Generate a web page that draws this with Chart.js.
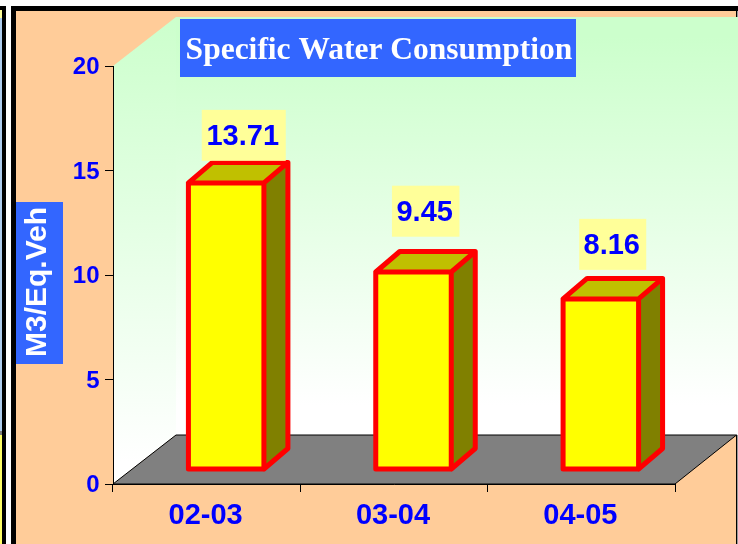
<!DOCTYPE html>
<html>
<head>
<meta charset="utf-8">
<style>html,body{margin:0;padding:0;background:#fff}canvas{display:block}</style>
<script src="https://cdn.jsdelivr.net/npm/chart.js@4/dist/chart.umd.min.js"></script>
</head>
<body>
<canvas id="c" width="738" height="544"></canvas>
<script>
const categories = ['02-03', '03-04', '04-05'];
const consumption = [13.71, 9.45, 8.16];
const chartTitle = 'Specific Water Consumption';
const yAxisTitle = 'M3/Eq.Veh';

const BLUE = '#0000FF', BOX = '#3366FF', PEACH = '#FFCC99';
const SANS = '"Liberation Sans", Arial, sans-serif';
const FRONT = {dx: 19.5, dy: -14.5};      // bar front plane vs. axis plane
const DEPTH = {dx: 24, dy: -20.5};        // bar depth
const WALL = {dx: 63, dy: -49};           // chart depth
const labelBoxes = [
  {ox: 37.1, oy: -62.1, w: 84},
  {ox: 31.7, oy: -75.3, w: 67.5},
  {ox: 31.4, oy: -69.1, w: 67}
];

const scene = {
  id: 'scene',
  afterLayout(chart) {
    const t = chart.titleBlock;
    t.left = 180; t.right = 578; t.top = 19; t.bottom = 77;
    t.width = 398; t.height = 58;
    const y = chart.scales.y;
    if (!y._wrapped) {
      const orig = y.drawTitle;
      y.drawTitle = function () {
        const a = this.top, b = this.bottom;
        this.top = a + 7; this.bottom = b + 7;
        orig.call(this);
        this.top = a; this.bottom = b;
      };
      y._wrapped = true;
    }
  },
  beforeDraw(chart) {
    const c = chart.ctx, a = chart.chartArea;
    const L = a.left, R = a.right, T = a.top, B = a.bottom;
    const backL = L + WALL.dx, backR = 738, backT = T + WALL.dy, backB = B + WALL.dy;
    c.save();
    c.fillStyle = '#fff'; c.fillRect(0, 0, 738, 544);
    // neighbouring slide strip
    c.fillStyle = '#FFFF99'; c.fillRect(0, 10, 2, 8);
    c.fillStyle = '#AECDEE'; c.fillRect(0, 18, 2, 414);
    c.fillStyle = '#808080'; c.fillRect(0, 431, 2, 4);
    c.fillStyle = '#FFFF66'; c.fillRect(0, 435, 2, 109);
    c.fillStyle = '#000'; c.fillRect(0, 6, 6, 4); c.fillRect(2, 6, 4, 538);
    // frame
    c.fillStyle = '#000'; c.fillRect(11, 6, 727, 5); c.fillRect(11, 6, 5, 538);
    c.fillStyle = PEACH; c.fillRect(16, 11, 720, 533);
    c.fillStyle = '#000'; c.fillRect(736, 11, 1.4, 533);
    // left wall
    let g = c.createLinearGradient(0, backT, 0, 462);
    g.addColorStop(0, '#CCFFCC'); g.addColorStop(1, '#FFFFFF');
    c.fillStyle = g;
    c.beginPath(); c.moveTo(L, T); c.lineTo(backL, backT); c.lineTo(backL, backB); c.lineTo(L, B); c.closePath(); c.fill();
    // back wall
    g = c.createLinearGradient(0, backT + 20, 0, 405);
    g.addColorStop(0, '#CCFFCC'); g.addColorStop(1, '#FFFFFF');
    c.fillStyle = g;
    c.fillRect(backL, backT, backR - backL, backB - backT);
    // floor
    c.fillStyle = '#808080';
    c.strokeStyle = '#000'; c.lineWidth = 1;
    c.beginPath(); c.moveTo(L, B); c.lineTo(backL, backB); c.lineTo(736.5, backB); c.lineTo(R, B); c.closePath();
    c.fill(); c.stroke();
    // title and axis title plates
    c.fillStyle = BOX;
    c.fillRect(180, 19, 396, 58);
    c.fillRect(16, 202, 47, 162);
    c.restore();
  },
  beforeDatasetDraw(chart, args) {
    const c = chart.ctx;
    c.save();
    c.translate(FRONT.dx, FRONT.dy);
    args.meta.data.forEach(el => {
      const l = el.x - el.width / 2, r = el.x + el.width / 2, t = el.y, b = el.base;
      c.fillStyle = '#808000';
      c.beginPath(); c.moveTo(r, t); c.lineTo(r + DEPTH.dx, t + DEPTH.dy); c.lineTo(r + DEPTH.dx, b + DEPTH.dy); c.lineTo(r, b); c.closePath(); c.fill();
      c.fillStyle = '#C0C000';
      c.beginPath(); c.moveTo(l, t); c.lineTo(l + DEPTH.dx, t + DEPTH.dy); c.lineTo(r + DEPTH.dx, t + DEPTH.dy); c.lineTo(r, t); c.closePath(); c.fill();
    });
  },
  afterDatasetDraw(chart, args) {
    const c = chart.ctx;
    c.strokeStyle = '#FF0000'; c.lineWidth = 5; c.lineJoin = 'round'; c.lineCap = 'round';
    args.meta.data.forEach(el => {
      const l = el.x - el.width / 2, r = el.x + el.width / 2, t = el.y, b = el.base;
      c.beginPath();
      c.rect(l, t, r - l, b - t);
      c.moveTo(l, t); c.lineTo(l + DEPTH.dx, t + DEPTH.dy); c.lineTo(r + DEPTH.dx, t + DEPTH.dy); c.lineTo(r, t);
      c.moveTo(r + DEPTH.dx, t + DEPTH.dy); c.lineTo(r + DEPTH.dx, b + DEPTH.dy); c.lineTo(r, b);
      c.stroke();
    });
    c.restore();
  },
  afterDatasetsDraw(chart) {
    const c = chart.ctx, meta = chart.getDatasetMeta(0);
    c.save();
    c.font = 'bold 29px ' + SANS;
    c.textAlign = 'center'; c.textBaseline = 'middle';
    meta.data.forEach((el, i) => {
      const p = labelBoxes[i], x = el.x + p.ox, y = el.y + p.oy;
      c.fillStyle = '#FFFF99';
      c.fillRect(x - p.w / 2, y - 25.5, p.w, 51);
      c.fillStyle = BLUE;
      c.fillText(String(consumption[i]), x - 1, y + 1.5);
    });
    c.restore();
  }
};

new Chart(document.getElementById('c'), {
  type: 'bar',
  data: {
    labels: categories,
    datasets: [{
      data: consumption,
      backgroundColor: '#FFFF00',
      borderWidth: 0,
      barThickness: 75.5,
      clip: false
    }]
  },
  options: {
    responsive: false,
    animation: false,
    events: [],
    layout: {padding: {left: 0, right: 63, top: 0, bottom: 0}},
    plugins: {
      legend: {display: false},
      tooltip: {enabled: false},
      title: {
        display: true,
        text: chartTitle,
        color: '#FFFFFF',
        font: {family: '"Liberation Serif", "Times New Roman", serif', weight: 'bold', size: 31.5, lineHeight: 1.2},
        padding: {top: 12.5, bottom: 15.7}
      }
    },
    scales: {
      x: {
        afterFit(s) { s.height = 60; },
        border: {color: '#000', width: 1},
        grid: {drawOnChartArea: false, drawTicks: true, tickLength: 8, color: '#000', offset: true},
        ticks: {color: BLUE, font: {family: SANS, weight: 'bold', size: 29}, padding: 7, maxRotation: 0, labelOffset: -1}
      },
      y: {
        min: 0, max: 20,
        afterFit(s) { s.width = 113; },
        border: {color: '#000', width: 1},
        grid: {drawOnChartArea: false, drawTicks: true, tickLength: 8, color: '#000'},
        ticks: {stepSize: 5, color: BLUE, font: {family: SANS, weight: 'bold', size: 24}, padding: 5.5, labelOffset: 1.5},
        title: {
          display: true,
          text: yAxisTitle,
          color: '#FFFFFF',
          font: {family: SANS, weight: 'bold', size: 30, lineHeight: 1.2},
          padding: {top: 19.5, bottom: 0}
        }
      }
    }
  },
  plugins: [scene]
});
</script>
</body>
</html>
